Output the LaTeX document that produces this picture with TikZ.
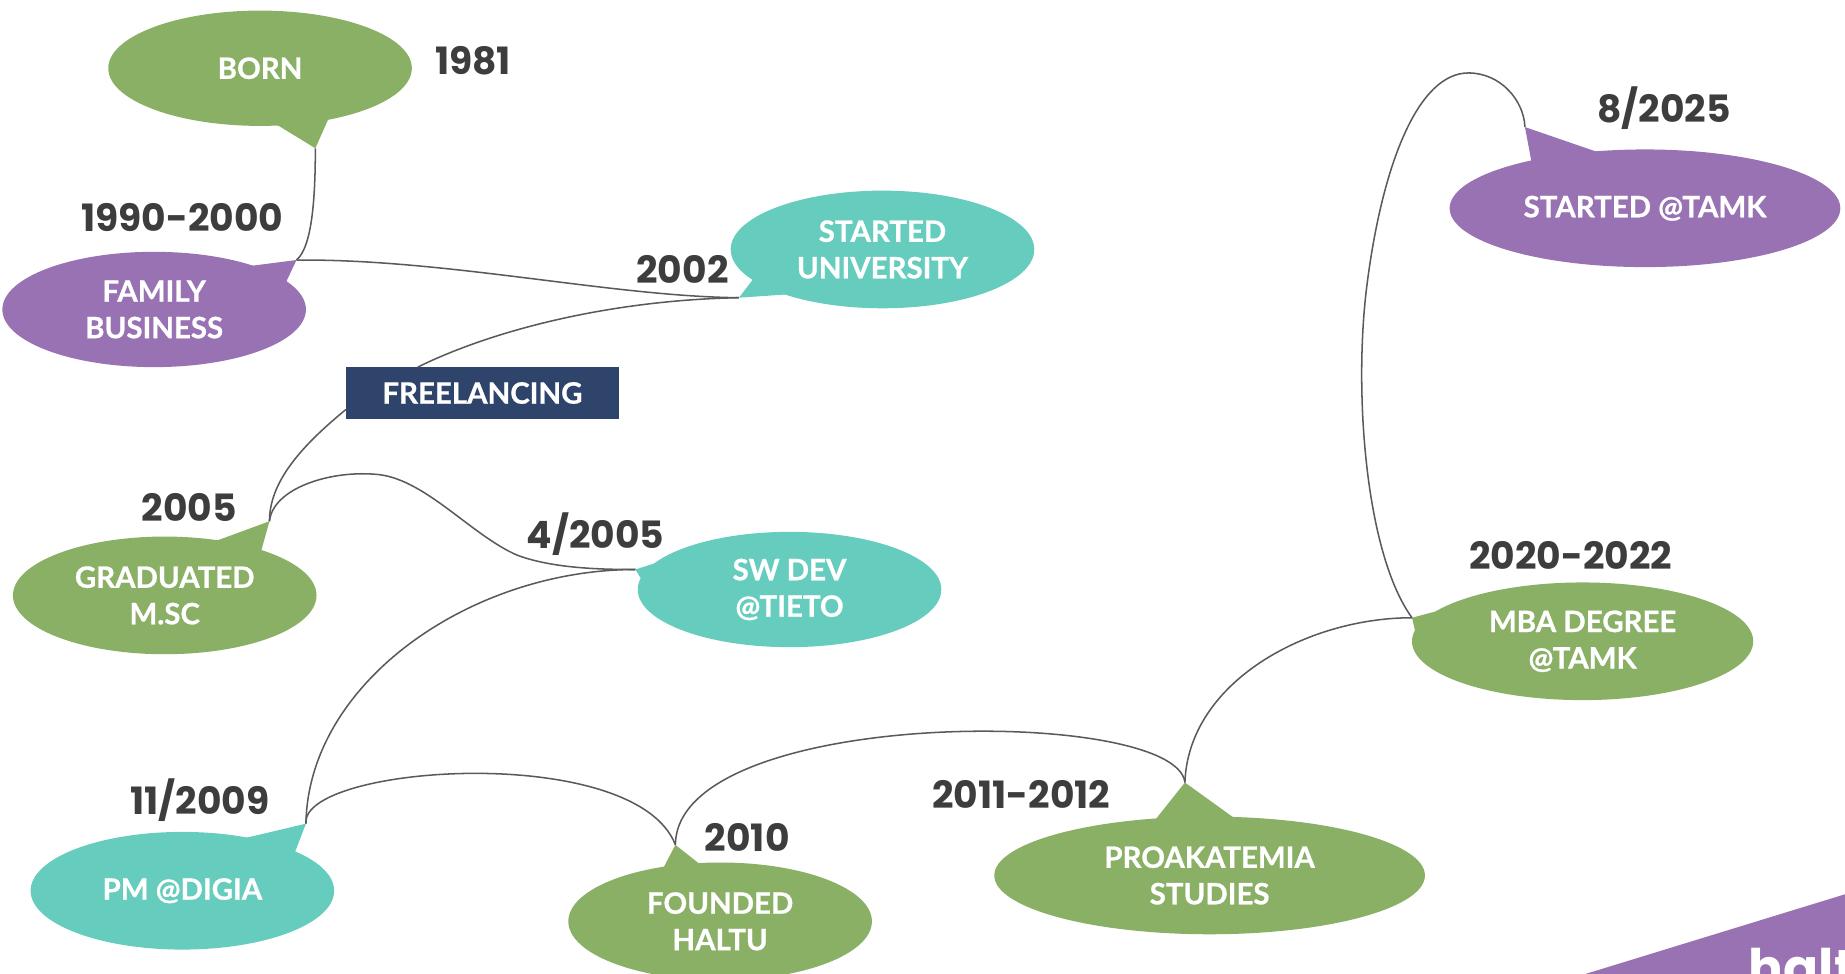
\documentclass[tikz,border=0pt]{standalone}
\usepackage{fontspec}
\setmainfont{Lato}[BoldFeatures={FakeBold=0.8}]
\newfontfamily\datefont{Poppins}
\usetikzlibrary{shapes.geometric}
\definecolor{cgreen}{HTML}{8AB066}
\definecolor{cpurple}{HTML}{9872B2}
\definecolor{cteal}{HTML}{66CDBE}
\definecolor{cnavy}{HTML}{2F446B}
\definecolor{cdate}{HTML}{3D3D3D}
\definecolor{cline}{HTML}{5A5A5A}
\tikzset{
  bubble/.style={ellipse, inner sep=0pt, text=white, align=center,
    font=\fontsize{25}{31}\selectfont\bfseries},
  datelbl/.style={text=cdate, font=\fontsize{32}{38}\selectfont\datefont\bfseries, inner sep=0pt},
  conn/.style={draw=cline, line width=1.3pt}
}
\begin{document}
\begin{tikzpicture}[x=1pt,y=-1pt]
\useasboundingbox (0,0) rectangle (1568,827);
% logo band
\fill[cpurple] (1340,830) -- (1568,760) -- (1568,830) -- cycle;
\node[anchor=north west, text=white, font=\fontsize{44}{50}\selectfont\datefont\bfseries, inner sep=0pt] (logo) at (1486,806) {haltu};
% bubbles
\node[bubble, fill=cgreen, minimum width=258pt, minimum height=98pt] (born) at (221,58) {BORN};
\fill[cgreen] (232,104) -- (268,126) -- (280,99) -- cycle;
\coordinate (bornT) at (268,126);

\node[bubble, fill=cpurple, minimum width=258pt, minimum height=98pt] (family) at (131,263) {FAMILY\\BUSINESS};
\fill[cpurple] (205,227) -- (252,221) -- (242,242) -- cycle;
\coordinate (familyT) at (252,221);

\node[bubble, fill=cteal, minimum width=258pt, minimum height=100pt] (univ) at (750,212) {STARTED\\UNIVERSITY};
\fill[cteal] (641,236) -- (628,253) -- (672,250) -- cycle;
\coordinate (univT) at (628,253);

\node[fill=cnavy, text=white, minimum width=232pt, minimum height=44pt, inner sep=0pt,
  font=\fontsize{25}{31}\selectfont\bfseries] (freel) at (410,334) {FREELANCING};
\coordinate (freelA) at (355,312);
\coordinate (freelB) at (294,348);

\node[bubble, fill=cgreen, minimum width=258pt, minimum height=100pt] (grad) at (140,506) {GRADUATED\\M.SC};
\fill[cgreen] (180,461) -- (229,443) -- (222,468) -- cycle;
\coordinate (gradT) at (229,443);

\node[bubble, fill=cteal, minimum width=258pt, minimum height=98pt] (swdev) at (671,501) {SW DEV\\@TIETO};
\fill[cteal] (548,497) -- (540,484) -- (568,475) -- cycle;
\coordinate (swdevT) at (540,484);

\node[bubble, fill=cteal, minimum width=258pt, minimum height=100pt] (pm) at (155,757) {PM @DIGIA};
\fill[cteal] (205,713) -- (260,700) -- (250,726) -- cycle;
\coordinate (pmT) at (260,700);

\node[bubble, fill=cgreen, minimum width=258pt, minimum height=100pt] (founded) at (612,783) {FOUNDED\\HALTU};
\fill[cgreen] (562,741) -- (574,718) -- (598,737) -- cycle;
\coordinate (foundedT) at (574,718);

\node[bubble, fill=cgreen, minimum width=366pt, minimum height=100pt] (proak) at (1028,744) {PROAKATEMIA\\STUDIES};
\fill[cgreen] (980,699) -- (1007,665) -- (1050,696) -- cycle;
\coordinate (proakT) at (1007,665);

\node[bubble, fill=cgreen, minimum width=290pt, minimum height=100pt] (mba) at (1345,545) {MBA DEGREE\\@TAMK};
\fill[cgreen] (1203,538) -- (1200,525) -- (1230,517) -- cycle;
\coordinate (mbaT) at (1200,525);

\node[bubble, fill=cpurple, minimum width=332pt, minimum height=100pt] (tamk) at (1398,177) {STARTED @TAMK};
\fill[cpurple] (1302,140) -- (1296,108) -- (1360,130) -- cycle;
\coordinate (tamkT) at (1296,108);

% connectors
\draw[conn] (bornT) .. controls (268,170) and (265,210) .. (familyT);
\draw[conn] (familyT) .. controls (380,220) and (520,252) .. (univT);
\draw[conn] (univT) .. controls (520,255) and (420,280) .. (freelA);
\draw[conn] (freelB) .. controls (255,380) and (229,410) .. (gradT);
\draw[conn] (gradT) .. controls (232,415) and (280,400) .. (318,403)
  .. controls (360,405) and (400,455) .. (440,472)
  .. controls (470,483) and (510,484) .. (swdevT);
\draw[conn] (swdevT) .. controls (400,484) and (262,580) .. (pmT);
\draw[conn] (pmT) .. controls (255,650) and (540,630) .. (foundedT);
\draw[conn] (foundedT) .. controls (575,600) and (1000,600) .. (proakT);
\draw[conn] (proakT) .. controls (1010,580) and (1110,525) .. (mbaT);
\draw[conn] (mbaT) .. controls (1160,470) and (1150,330) .. (1162,240)
  .. controls (1175,140) and (1205,62) .. (1248,62)
  .. controls (1275,62) and (1295,85) .. (tamkT);

% dates
\node[datelbl] (d1981) at (402,52) {1981};
\node[datelbl] (d1990) at (155,185) {1990-2000};
\node[datelbl] (d2002) at (580,229) {2002};
\node[datelbl] (d2005) at (161,431) {2005};
\node[datelbl] (d42005) at (506,454) {4/2005};
\node[datelbl] (d2009) at (170,680) {11/2009};
\node[datelbl] (d2010) at (635,712) {2010};
\node[datelbl] (d2011) at (868,675) {2011-2012};
\node[datelbl] (d2020) at (1335,472) {2020-2022};
\node[datelbl] (d2025) at (1414,92) {8/2025};
\end{tikzpicture}
\end{document}
